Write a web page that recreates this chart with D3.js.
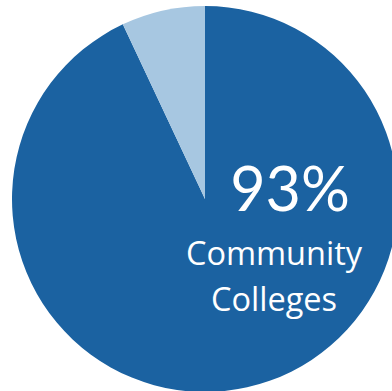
<!DOCTYPE html>
<html>
<head>
<meta charset="utf-8">
<script src="https://cdn.jsdelivr.net/npm/d3@7"></script>
<style>
  html, body { margin: 0; padding: 0; background: #fff; overflow: hidden; }
  svg { display: block; }
</style>
</head>
<body>
<script>
// Share of students by institution type
const categories = ["Community Colleges", "Other"];
const shares = [93, 7];
const colors = ["#1b62a1", "#a7c7e1"];
const labelValue = "93%";
const labelLines = ["Community", "Colleges"];

const width = 392, height = 391;
const cx = 205, cy = 199, radius = 193;

const svg = d3.select("body").append("svg")
  .attr("width", width).attr("height", height);

const g = svg.append("g").attr("transform", `translate(${cx},${cy})`);

const pie = d3.pie().sort(null).value(d => d.value);
const arcs = pie(categories.map((c, i) => ({ name: c, value: shares[i], color: colors[i] })));
const arc = d3.arc().innerRadius(0).outerRadius(radius);

g.selectAll("path").data(arcs).join("path")
  .attr("d", arc)
  .attr("fill", d => d.data.color);

// Percentage label
svg.append("text")
  .attr("x", 290).attr("y", 211)
  .attr("text-anchor", "middle")
  .attr("font-family", "Lato, 'Open Sans', sans-serif")
  .attr("font-size", 61)
  .attr("fill", "#fff")
  .text(labelValue);

svg.selectAll("text.cat").data(labelLines).join("text")
  .attr("class", "cat")
  .attr("x", 274)
  .attr("y", (d, i) => 265 + i * 46)
  .attr("text-anchor", "middle")
  .attr("font-family", "'Open Sans', sans-serif")
  .attr("font-size", 32.5)
  .attr("fill", "#fff")
  .text(d => d);
</script>
</body>
</html>
